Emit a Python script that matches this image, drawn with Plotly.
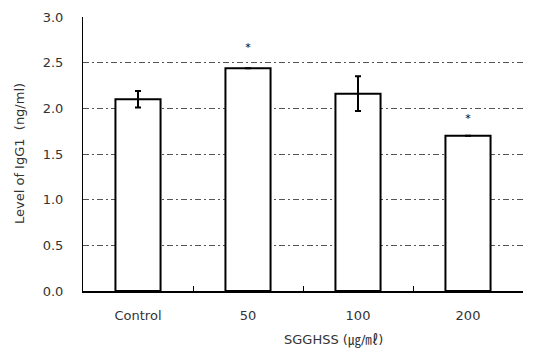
import plotly.graph_objects as go

categories = ["Control", "50", "100", "200"]
values = [2.10, 2.44, 2.16, 1.70]
errors = [0.09, None, 0.19, None]
star_values = [None, 2.66, None, 1.88]
y_ticks = [0.0, 0.5, 1.0, 1.5, 2.0, 2.5, 3.0]

font_family = "DejaVu Sans, Noto Sans CJK KR"
W, H = 534, 353
L, R, T, B = 83, 11, 17, 62
pw, ph = W - L - R, H - T - B

fig = go.Figure()
fig.add_trace(go.Bar(
    x=categories, y=values,
    width=0.41,
    marker=dict(color="white", line=dict(color="black", width=2)),
    error_y=dict(type="data", array=errors, visible=True, color="black", thickness=2, width=3),
    showlegend=False,
))
star_x = [c for c, s in zip(categories, star_values) if s is not None]
star_y = [s for s in star_values if s is not None]
fig.add_trace(go.Scatter(
    x=star_x, y=star_y, mode="text", text=["*"] * len(star_x),
    textfont=dict(size=11, color="black", family=font_family),
    showlegend=False, hoverinfo="skip",
))

fig.update_layout(
    width=W, height=H,
    margin=dict(l=L, r=R, t=T, b=B),
    plot_bgcolor="white", paper_bgcolor="white",
    font=dict(family=font_family, color="#333", size=13),
    annotations=[
        dict(text="SGGHSS (㎍/㎖)", xref="paper", yref="paper",
             x=(333 - L) / pw, y=-(340 - (T + ph)) / ph,
             xanchor="center", yanchor="middle", showarrow=False,
             font=dict(size=13, color="#333", family=font_family)),
        dict(text="Level of IgG1  (ng/ml)", xref="paper", yref="paper",
             x=(19 - L) / pw, y=0.5, textangle=-90,
             xanchor="center", yanchor="middle", showarrow=False,
             font=dict(size=13, color="#333", family=font_family)),
    ],
)
fig.update_xaxes(
    type="category", automargin=False,
    showline=True, linecolor="black", linewidth=1.5,
    ticks="inside", tickson="boundaries", ticklen=5, tickcolor="black",
    showgrid=False, ticklabelstandoff=12,
    tickfont=dict(size=13, color="#333"),
)
fig.update_yaxes(
    range=[0, 3.0], automargin=False,
    tickvals=y_ticks, ticktext=[f"{v:.1f}" for v in y_ticks],
    showline=True, linecolor="black", linewidth=1,
    ticks="", ticklabelstandoff=16,
    showgrid=True, gridcolor="#555", griddash="6px,3px,2px,3px", gridwidth=1,
    zeroline=False,
    tickfont=dict(size=13, color="#333"),
)

fig.write_html("out.html")
